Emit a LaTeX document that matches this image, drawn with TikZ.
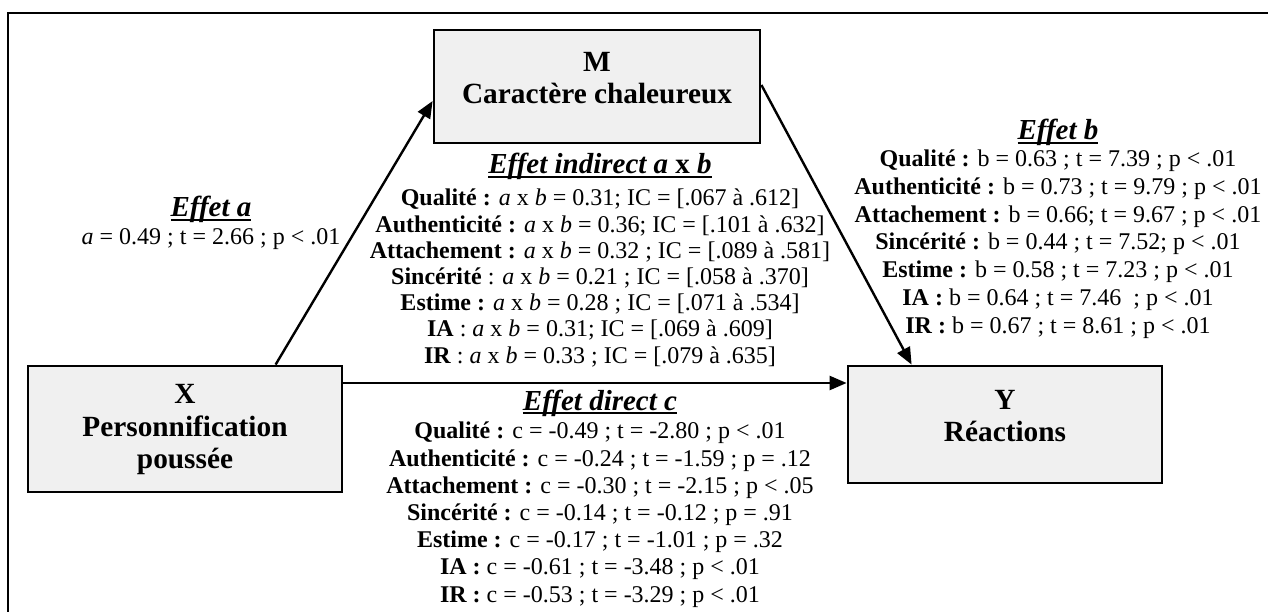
\documentclass[tikz,border=0pt]{standalone}
\usepackage{fontspec}
\setmainfont{Liberation Serif}
\usetikzlibrary{arrows.meta,calc}
\definecolor{boxgray}{HTML}{F0F0F0}
\newcommand\myul[1]{\setbox0\hbox{#1}\rlap{\rule[-4pt]{\wd0}{2pt}}\box0}
\begin{document}
\begin{tikzpicture}[x=1pt,y=-1pt,
  box/.style={draw, line width=2.8pt, fill=boxgray, inner sep=0pt},
  boxtext/.style={align=center, font=\fontsize{29.3}{32.5}\selectfont\bfseries, inner sep=0pt},
  ttl/.style={font=\fontsize{29}{33}\selectfont\bfseries\itshape, inner sep=0pt, anchor=base},
  body/.style={align=center, inner sep=0pt, anchor=base},
  arr/.style={line width=2.4pt, -{Triangle[length=17pt,width=14pt]}}]
\useasboundingbox (0,0) rectangle (1268,612);
% outer frame (right and bottom sides lie outside the page)
\draw[line width=2.8pt] (8,13) rectangle (1300,650);

% boxes
\node[box, minimum width=326pt, minimum height=113pt] (M) at (597,86.5) {};
\node[box, minimum width=314pt, minimum height=126pt] (X) at (185,429) {};
\node[box, minimum width=314pt, minimum height=117pt] (Y) at (1005,424.5) {};
\node[boxtext] (Mt) at (597,78) {M\\Caractère chaleureux};
\node[boxtext] (Xt) at (185,430) {X\\Personnification\\poussée};
\node[boxtext] (Yt) at (1005,416) {Y\\Réactions};

% connectors
\draw[arr] ([xshift=249pt]X.north west) -- ([yshift=-14.5pt]M.west);
\draw[arr] ([yshift=1.5pt]M.east) -- ([xshift=65pt]Y.north west);
\draw[arr] ([yshift=46pt]X.east) -- ([yshift=41.5pt]Y.west);

% effet a
\node[ttl] (ta) at (211,217) {\myul{Effet a}};
\node[body, font=\fontsize{24}{27.5}\selectfont] (ba) at (211,244) {\textit{a} = 0.49 ; t = 2.66 ; p < .01};

% effet indirect (anchor base = baseline of last line)
\node[ttl] (ti) at (600,174) {\myul{Effet indirect a \textup{x} b}};
\node[body, font=\fontsize{24}{26.2}\selectfont] (bi) at (600,363) {%
\textbf{Qualité :} \textit{a} x \textit{b} = 0.31; IC = [.067 à .612]\\
\textbf{Authenticité :} \textit{a} x \textit{b} = 0.36; IC = [.101 à .632]\\
\textbf{Attachement :} \textit{a} x \textit{b} = 0.32 ; IC = [.089 à .581]\\
\textbf{Sincérité} : \textit{a} x \textit{b} = 0.21 ; IC = [.058 à .370]\\
\textbf{Estime :} \textit{a} x \textit{b} = 0.28 ; IC = [.071 à .534]\\
\textbf{IA} : \textit{a} x \textit{b} = 0.31; IC = [.069 à .609]\\
\textbf{IR} : \textit{a} x \textit{b} = 0.33 ; IC = [.079 à .635]};

% effet b
\node[ttl] (tb) at (1058,140) {\myul{Effet b}};
\node[body, font=\fontsize{24}{27.7}\selectfont] (bb) at (1058,333) {%
\textbf{Qualité :} b = 0.63 ; t = 7.39 ; p < .01\\
\textbf{Authenticité :} b = 0.73 ; t = 9.79 ; p < .01\\
\textbf{Attachement :} b = 0.66; t = 9.67 ; p < .01\\
\textbf{Sincérité :} b = 0.44 ; t = 7.52; p < .01\\
\textbf{Estime :} b = 0.58 ; t = 7.23 ; p < .01\\
\textbf{IA :} b = 0.64 ; t = 7.46 \ ; p < .01\\
\textbf{IR :} b = 0.67 ; t = 8.61 ; p < .01};

% effet direct
\node[ttl] (tc) at (600,410) {\myul{Effet direct c}};
\node[body, font=\fontsize{24}{27.2}\selectfont] (bc) at (600,602) {%
\textbf{Qualité :} c = -0.49 ; t = -2.80 ; p < .01\\
\textbf{Authenticité :} c = -0.24 ; t = -1.59 ; p = .12\\
\textbf{Attachement :} c = -0.30 ; t = -2.15 ; p < .05\\
\textbf{Sincérité :} c = -0.14 ; t = -0.12 ; p = .91\\
\textbf{Estime :} c = -0.17 ; t = -1.01 ; p = .32\\
\textbf{IA :} c = -0.61 ; t = -3.48 ; p < .01\\
\textbf{IR :} c = -0.53 ; t = -3.29 ; p < .01};
\end{tikzpicture}
\end{document}
